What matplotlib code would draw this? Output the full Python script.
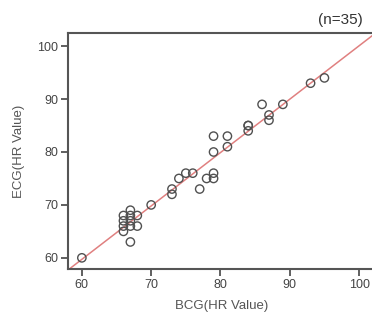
import numpy as np
import matplotlib
matplotlib.use("Agg")
import matplotlib.pyplot as plt

plt.rcParams['font.family'] = ['Liberation Sans', 'DejaVu Sans']

bcg = [60, 66, 67, 67, 68, 66, 67, 68, 66, 67, 66, 67,
       70, 73, 73, 74, 75, 76, 77, 78, 79, 79, 79, 79, 81, 81,
       84, 84, 84, 86, 87, 87, 89, 93, 95]
ecg = [60, 68, 69, 68, 68, 66, 66, 66, 65, 63, 67, 67,
       70, 73, 72, 75, 76, 76, 73, 75, 76, 75, 80, 83, 83, 81,
       85, 85, 84, 89, 87, 86, 89, 93, 94]
xticks = [60, 70, 80, 90, 100]
yticks = [60, 70, 80, 90, 100]

fig = plt.figure(figsize=(3.72, 3.26), dpi=100)
ax = fig.add_axes([0.1828, 0.175, 0.8172 + 0.01, 0.724])

x = np.array(bcg, float)
y = np.array(ecg, float)
m, b = np.polyfit(x, y, 1)
xx = np.array([58.0, 103.0])
ax.plot(xx, m * xx + b, color='#e08080', lw=1.1, zorder=1)
ax.scatter(x, y, s=36, facecolors='none', edgecolors='#505050', linewidths=1.0, zorder=2)

ax.set_xlim(58.0, 102.4)
ax.set_ylim(57.9, 102.5)
ax.set_xticks(xticks)
ax.set_yticks(yticks)
ax.tick_params(direction='out', length=5, width=1.2, color='#444444',
               labelsize=9, labelcolor='#444444', pad=2)
for s in ax.spines.values():
    s.set_color('#555555')
    s.set_linewidth(1.5)

ax.set_xlabel('BCG(HR Value)', fontsize=9.5, color='#555555', labelpad=7)
ax.set_ylabel('ECG(HR Value)', fontsize=9.5, color='#555555', labelpad=9)
fig.text(0.976, 0.938, '(n=35)', ha='right', va='center', fontsize=11, color='#333333')

fig.savefig('out.png', dpi=100)
